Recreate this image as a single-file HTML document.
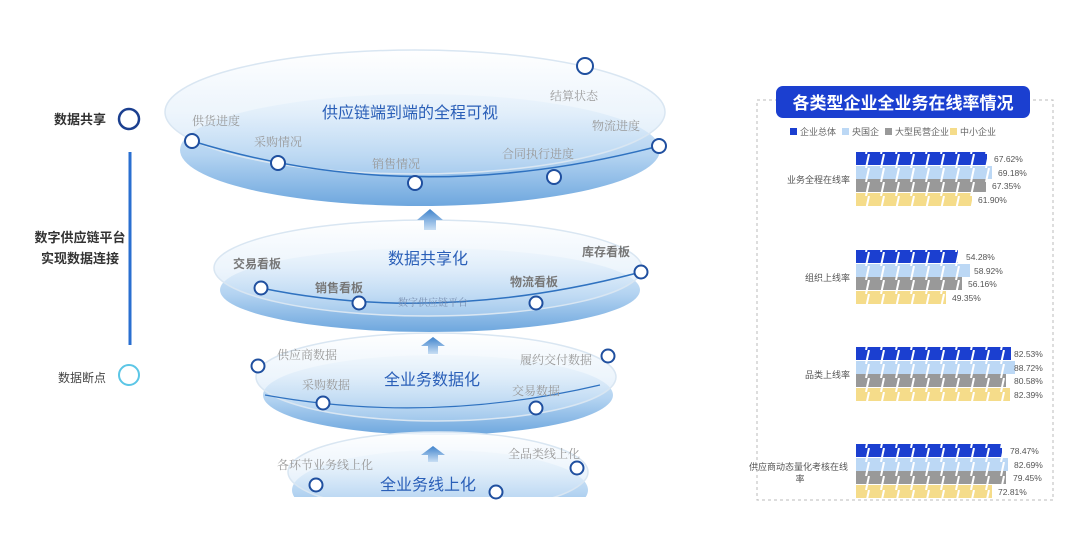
<!DOCTYPE html>
<html><head><meta charset="utf-8"><style>
body{margin:0;width:1080px;height:540px;background:#fff;overflow:hidden;font-family:"Liberation Sans","Noto Sans CJK SC",sans-serif}
</style></head><body>
<svg width="1080" height="540" viewBox="0 0 1080 540" xmlns="http://www.w3.org/2000/svg" font-family="Liberation Sans, Noto Sans CJK SC, sans-serif">
<defs>
<linearGradient id="dg" x1="0" y1="0" x2="0" y2="1">
<stop offset="0" stop-color="#eaf4fc"/><stop offset="0.55" stop-color="#b3d3f1"/><stop offset="1" stop-color="#6ea7de"/></linearGradient>
<linearGradient id="tg" x1="0" y1="0" x2="0" y2="1">
<stop offset="0" stop-color="#ffffff" stop-opacity="0.9"/><stop offset="0.5" stop-color="#e6f1fb" stop-opacity="0.7"/><stop offset="1" stop-color="#b8d6f2" stop-opacity="0.5"/></linearGradient>
<linearGradient id="ag" x1="0" y1="0" x2="0" y2="1"><stop offset="0" stop-color="#3f83cc"/><stop offset="1" stop-color="#c8def4"/></linearGradient>
<pattern id="st" width="15" height="14" patternUnits="userSpaceOnUse"><path d="M11 14 L14 0" stroke="#fff" stroke-width="2"/></pattern>
<clipPath id="cut"><rect x="0" y="0" width="1080" height="497"/></clipPath>
</defs>

<text x="80" y="124" font-size="13" font-weight="bold" fill="#333" text-anchor="middle">数据共享</text>
<circle cx="129" cy="119" r="10" fill="#fff" stroke="#1b3f8f" stroke-width="2.5"/>
<line x1="130" y1="152" x2="130" y2="345" stroke="#2a6fd0" stroke-width="3"/>
<text x="80" y="242" font-size="13" font-weight="bold" fill="#333" text-anchor="middle">数字供应链平台</text>
<text x="80" y="263" font-size="13" font-weight="bold" fill="#333" text-anchor="middle">实现数据连接</text>
<text x="82" y="382" font-size="12" fill="#444" text-anchor="middle">数据断点</text>
<circle cx="129" cy="375" r="10" fill="#fff" stroke="#5cc6e6" stroke-width="2"/>

<!-- disc 1 -->
<ellipse cx="420" cy="150" rx="240" ry="56" fill="url(#dg)"/>
<ellipse cx="415" cy="112" rx="250" ry="62" fill="url(#tg)" stroke="#d9e6f2" stroke-width="1.5"/>
<path d="M192 141 Q415 210 659 146" fill="none" stroke="#2f72c0" stroke-width="1.5"/>
<text x="410" y="118" font-size="16" fill="#2a5fb8" text-anchor="middle">供应链端到端的全程可视</text>
<g font-size="12" fill="#999" font-family="Liberation Serif, Noto Serif CJK SC, serif">
<text x="192" y="125">供货进度</text><text x="254" y="146">采购情况</text><text x="372" y="168">销售情况</text>
<text x="502" y="158">合同执行进度</text><text x="550" y="100">结算状态</text><text x="592" y="130">物流进度</text></g>
<g fill="#fff" stroke="#1f4f9f" stroke-width="2">
<circle cx="192" cy="141" r="7"/><circle cx="278" cy="163" r="7"/><circle cx="415" cy="183" r="7"/><circle cx="554" cy="177" r="7"/><circle cx="659" cy="146" r="7"/><circle cx="585" cy="66" r="8"/></g>

<!-- disc 2 -->
<ellipse cx="430" cy="290" rx="210" ry="42" fill="url(#dg)"/>
<ellipse cx="428" cy="268" rx="214" ry="48" fill="url(#tg)" stroke="#d9e6f2" stroke-width="1.5"/>
<path d="M261 288 Q440 325 641 272" fill="none" stroke="#2f72c0" stroke-width="1.5"/>
<text x="428" y="264" font-size="16" fill="#2a5fb8" text-anchor="middle">数据共享化</text>
<g font-size="12" font-weight="bold" fill="#777">
<text x="233" y="268">交易看板</text><text x="315" y="292">销售看板</text><text x="510" y="286">物流看板</text><text x="582" y="256">库存看板</text></g>
<text x="398" y="306" font-size="10" fill="#7a8fb0" font-family="Liberation Serif, Noto Serif CJK SC, serif">数字供应链平台</text>
<g fill="#fff" stroke="#1f4f9f" stroke-width="2">
<circle cx="261" cy="288" r="6.5"/><circle cx="359" cy="303" r="6.5"/><circle cx="536" cy="303" r="6.5"/><circle cx="641" cy="272" r="6.5"/></g>
<path d="M424 230 L424 220 L417 220 L430 209 L443 220 L436 220 L436 230 Z" fill="url(#ag)"/>

<!-- disc 3 -->
<ellipse cx="438" cy="395" rx="175" ry="40" fill="url(#dg)"/>
<ellipse cx="436" cy="377" rx="180" ry="44" fill="url(#tg)" stroke="#d9e6f2" stroke-width="1.5"/>
<path d="M265 395 Q430 425 600 385" fill="none" stroke="#2f72c0" stroke-width="1.2"/>
<text x="432" y="385" font-size="16" fill="#2a5fb8" text-anchor="middle">全业务数据化</text>
<g font-size="12" fill="#999" font-family="Liberation Serif, Noto Serif CJK SC, serif">
<text x="277" y="359">供应商数据</text><text x="302" y="389">采购数据</text><text x="520" y="364">履约交付数据</text><text x="512" y="395">交易数据</text></g>
<g fill="#fff" stroke="#1f4f9f" stroke-width="2">
<circle cx="258" cy="366" r="6.5"/><circle cx="323" cy="403" r="6.5"/><circle cx="536" cy="408" r="6.5"/><circle cx="608" cy="356" r="6.5"/></g>
<path d="M428 354 L428 346 L421 346 L433 337 L445 346 L438 346 L438 354 Z" fill="url(#ag)"/>

<!-- disc 4 -->
<g clip-path="url(#cut)">
<ellipse cx="440" cy="490" rx="148" ry="40" fill="url(#dg)"/>
<ellipse cx="438" cy="472" rx="150" ry="40" fill="url(#tg)" stroke="#d9e6f2" stroke-width="1.5"/>
</g>
<path d="M428 462 L428 455 L421 455 L433 446 L445 455 L438 455 L438 462 Z" fill="url(#ag)"/>
<text x="428" y="490" font-size="16" fill="#2a5fb8" text-anchor="middle">全业务线上化</text>
<g font-size="12" fill="#999" font-family="Liberation Serif, Noto Serif CJK SC, serif">
<text x="277" y="469">各环节业务线上化</text><text x="508" y="458">全品类线上化</text></g>
<g fill="#fff" stroke="#1f4f9f" stroke-width="2">
<circle cx="316" cy="485" r="6.5"/><circle cx="496" cy="492" r="6.5"/><circle cx="577" cy="468" r="6.5"/></g>

<!-- right panel -->
<rect x="757" y="100" width="296" height="400" fill="none" stroke="#bbb" stroke-dasharray="3,3"/>
<rect x="776" y="86" width="254" height="32" rx="7" fill="#1b3fd0"/>
<text x="903" y="109" font-size="17" font-weight="bold" fill="#fff" text-anchor="middle">各类型企业全业务在线率情况</text>
<g font-size="9" fill="#666">
<rect x="790" y="128" width="7" height="7" fill="#1b3fd0"/><text x="800" y="135">企业总体</text>
<rect x="842" y="128" width="7" height="7" fill="#bcd8f5"/><text x="852" y="135">央国企</text>
<rect x="885" y="128" width="7" height="7" fill="#999"/><text x="895" y="135">大型民营企业</text>
<rect x="950" y="128" width="7" height="7" fill="#f5dc8a"/><text x="960" y="135">中小企业</text>
</g>
<g font-size="9" fill="#555">
<text x="850" y="183" text-anchor="end">业务全程在线率</text>
<text x="850" y="281" text-anchor="end">组织上线率</text>
<text x="850" y="378" text-anchor="end">品类上线率</text>
<text x="848" y="470" text-anchor="end">供应商动态量化考核在线</text>
<text x="800" y="482" text-anchor="middle">率</text>
</g>
<g>
<rect x="856" y="152" width="131" height="13" fill="#1b3fd0"/><rect x="856" y="166" width="136" height="13" fill="#bcd8f5"/><rect x="856" y="179" width="130" height="13" fill="#999"/><rect x="856" y="193" width="116" height="13" fill="#f5dc8a"/>
<rect x="856" y="250" width="102" height="13" fill="#1b3fd0"/><rect x="856" y="264" width="114" height="13" fill="#bcd8f5"/><rect x="856" y="277" width="106" height="13" fill="#999"/><rect x="856" y="291" width="90" height="13" fill="#f5dc8a"/>
<rect x="856" y="347" width="155" height="13" fill="#1b3fd0"/><rect x="856" y="361" width="159" height="13" fill="#bcd8f5"/><rect x="856" y="374" width="150" height="13" fill="#999"/><rect x="856" y="388" width="154" height="13" fill="#f5dc8a"/>
<rect x="856" y="444" width="146" height="13" fill="#1b3fd0"/><rect x="856" y="458" width="152" height="13" fill="#bcd8f5"/><rect x="856" y="471" width="150" height="13" fill="#999"/><rect x="856" y="485" width="136" height="13" fill="#f5dc8a"/>
<rect x="856" y="152" width="160" height="54" fill="url(#st)"/>
<rect x="856" y="250" width="160" height="54" fill="url(#st)"/>
<rect x="856" y="347" width="160" height="54" fill="url(#st)"/>
<rect x="856" y="444" width="160" height="54" fill="url(#st)"/>
</g>
<g font-size="8.5" fill="#555">
<text x="994" y="162">67.62%</text><text x="998" y="176">69.18%</text><text x="992" y="189">67.35%</text><text x="978" y="203">61.90%</text>
<text x="966" y="260">54.28%</text><text x="974" y="274">58.92%</text><text x="968" y="287">56.16%</text><text x="952" y="301">49.35%</text>
<text x="1014" y="357">82.53%</text><text x="1014" y="371">88.72%</text><text x="1014" y="384">80.58%</text><text x="1014" y="398">82.39%</text>
<text x="1010" y="454">78.47%</text><text x="1014" y="468">82.69%</text><text x="1013" y="481">79.45%</text><text x="998" y="495">72.81%</text>
</g>
</svg>
</body></html>
